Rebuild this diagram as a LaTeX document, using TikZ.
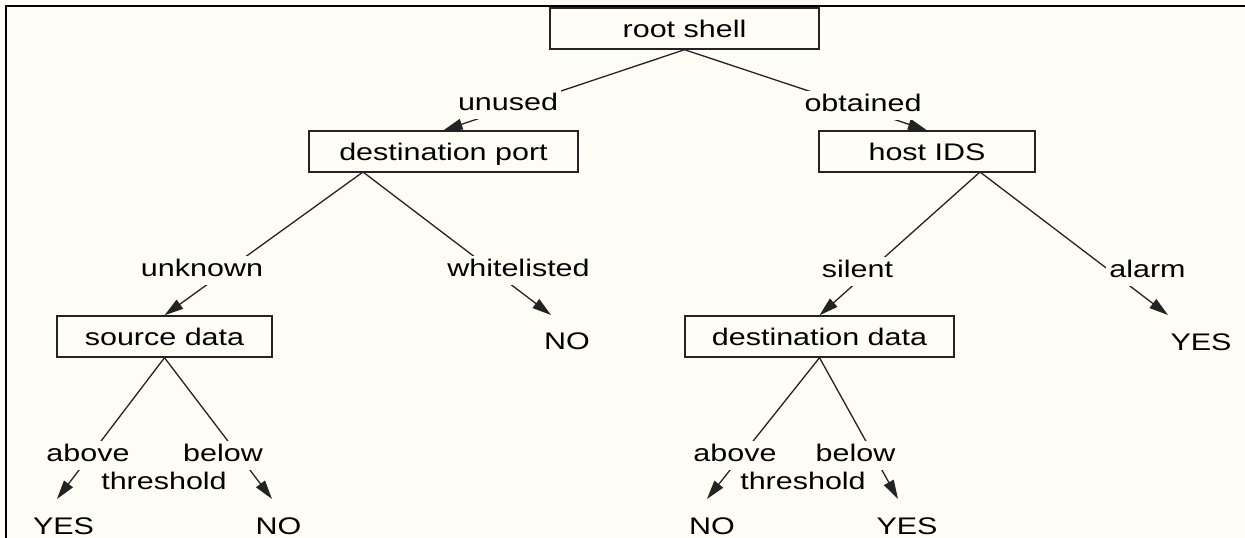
\documentclass[tikz,border=0pt]{standalone}
\usepackage{fontspec}
\setmainfont{Liberation Sans}
\usepackage{graphicx}
\usetikzlibrary{arrows.meta}
\definecolor{bgc}{RGB}{253,253,246}
\definecolor{linec}{RGB}{35,35,35}
\newcommand{\sx}[1]{\scalebox{1.27}[1]{#1}}
\begin{document}
\begin{tikzpicture}[x=1pt,y=-1pt,
  tfont/.style={font=\fontsize{24pt}{28pt}\selectfont},
  box/.style={tfont, draw=linec, line width=1.4pt, fill=bgc, minimum height=41pt, inner sep=0pt, text height=17pt, text depth=0pt},
  lbl/.style={tfont, fill=bgc, inner sep=3pt, text height=17pt, text depth=6pt, anchor=base},
  leaf/.style={tfont, inner sep=0pt, anchor=base},
  edge/.style={draw=linec, line width=1.3pt, -{Triangle[length=19pt,width=11pt]}},
  frame/.style={line width=2.5pt}]
\fill[bgc] (0,0) rectangle (1245,538);
\useasboundingbox (0,0) rectangle (1245,538);
\draw[frame] (6,538) -- (6,6) -- (1245,6);

% decision boxes
\node[box, minimum width=269pt] (root)  at (684.5,28.5)  {\sx{root shell}};
\node[box, minimum width=269pt] (dport) at (443.5,151.5) {\sx{destination port}};
\node[box, minimum width=216pt] (hids)  at (927,151.5)   {\sx{host IDS}};
\node[box, minimum width=215pt] (sdata) at (164.5,336.5) {\sx{source data}};
\node[box, minimum width=269pt] (ddata) at (819.5,336.5) {\sx{destination data}};

% leaves
\node[leaf] (no1)  at (567,349)   {\sx{NO}};
\node[leaf] (yes1) at (1201,350)  {\sx{YES}};
\node[leaf] (yes2) at (63.5,534.5)  {\sx{YES}};
\node[leaf] (no2)  at (278.5,534.5) {\sx{NO}};
\node[leaf] (no3)  at (712,534.5)   {\sx{NO}};
\node[leaf] (yes3) at (907,534.5)   {\sx{YES}};

% branch points and arrow tips
\coordinate (dpA) at (363,172);
\coordinate (hA) at (980,172);
\coordinate (tNO1) at (551,315);
\coordinate (tYES1) at (1168,315);
\coordinate (tYES2) at (57,499);
\coordinate (tNO2) at (272,499);
\coordinate (tNO3) at (707,499);
\coordinate (tYES3) at (898,499);

% edges
\draw[edge] (root.south) -- (dport.north);
\draw[edge] (root.south) -- (hids.north);
\draw[edge] (dpA) -- (sdata.north);
\draw[edge] (dpA) -- (tNO1);
\draw[edge] (hA) -- (ddata.north);
\draw[edge] (hA) -- (tYES1);
\draw[edge] (sdata.south) -- (tYES2);
\draw[edge] (sdata.south) -- (tNO2);
\draw[edge] (ddata.south) -- (tNO3);
\draw[edge] (ddata.south) -- (tYES3);

% edge labels
\node[lbl] (l1)  at (508,110)    {\sx{unused}};
\node[lbl] (l2)  at (863,111)    {\sx{obtained}};
\node[lbl] (l3)  at (202,276)    {\sx{unknown}};
\node[lbl] (l4)  at (518.5,276)  {\sx{whitelisted}};
\node[lbl] (l5)  at (857.5,277)  {\sx{silent}};
\node[lbl] (l6)  at (1147.5,277) {\sx{alarm}};
\node[lbl] (l7)  at (88,461)     {\sx{above}};
\node[lbl] (l8)  at (223,461)    {\sx{below}};
\node[lbl] (l9)  at (164,489)    {\sx{threshold}};
\node[lbl] (l10) at (735,461)    {\sx{above}};
\node[lbl] (l11) at (855.5,461)  {\sx{below}};
\node[lbl] (l12) at (803,489)    {\sx{threshold}};
\end{tikzpicture}
\end{document}
